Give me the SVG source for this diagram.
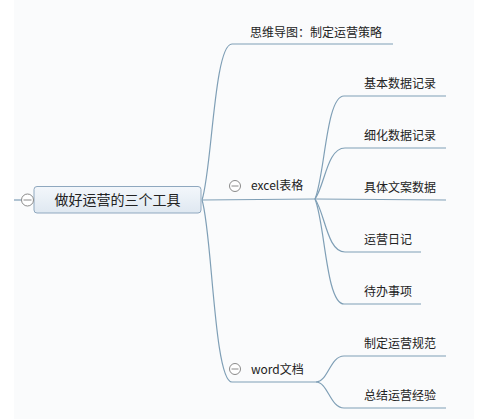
<svg xmlns="http://www.w3.org/2000/svg" width="492" height="419" viewBox="0 0 492 419">
<defs>
<linearGradient id="rootFill" x1="0" y1="0" x2="0" y2="1">
<stop offset="0" stop-color="#f3f7fb"/>
<stop offset="1" stop-color="#dfe8f1"/>
</linearGradient>
</defs>
<style>
.bg{fill:#fafbfc}
.ln{fill:none;stroke:#7f9fb6;stroke-width:1.2}
.t{font-family:"Noto Sans CJK SC","Noto Sans",sans-serif;font-size:12px;fill:#222}
.rt{font-family:"Noto Sans CJK SC","Noto Sans",sans-serif;font-size:14px;fill:#222}
.col{fill:#fff;stroke:#8a8a8a;stroke-width:1}
.minus{stroke:#8a8a8a;stroke-width:1}
</style>
<rect x="0" y="0" width="492" height="419" fill="#ffffff"/>
<rect class="bg" x="14" y="0" width="460" height="419"/>
<g id="connectors">
<line class="ln" x1="14" y1="200" x2="21.5" y2="200"/>
<path class="ln" d="M202,200 C212,170 214,44 232,44 L393,44"/>
<path class="ln" d="M202,200 C214,200 300,199 315,199"/>
<path class="ln" d="M202,200 C212,230 214,382 232,382 L316,382"/>
<path class="ln" d="M315,199 C325,175 326,96 344,96 L446,96"/>
<path class="ln" d="M315,199 C325,185 327,148 345,148 L446,148"/>
<path class="ln" d="M315,199 L446,200"/>
<path class="ln" d="M315,199 C325,213 327,252 345,252 L421,252"/>
<path class="ln" d="M315,199 C325,223 326,304 344,304 L421,304"/>
<path class="ln" d="M316,382 C328,382 330,356 344,356 L446,356"/>
<path class="ln" d="M316,382 C328,382 330,408 344,408 L446,408"/>
</g>
<g id="root">
<rect x="34" y="186.5" width="167" height="26.5" rx="3" fill="url(#rootFill)" stroke="#8fa8bf" stroke-width="1"/>
<text class="rt" x="117.5" y="205" text-anchor="middle">做好运营的三个工具</text>
<circle class="col" cx="27.5" cy="200" r="6"/>
<line class="minus" x1="23.5" y1="200" x2="31.5" y2="200"/>
</g>
<g id="mindmap">
<text class="t" x="250" y="36.5">思维导图：制定运营策略</text>
</g>
<g id="excel">
<circle class="col" cx="235" cy="186" r="5.5"/>
<line class="minus" x1="231.5" y1="186" x2="238.5" y2="186"/>
<text class="t" x="251" y="190">excel表格</text>
</g>
<g id="word">
<circle class="col" cx="235" cy="369" r="5.5"/>
<line class="minus" x1="231.5" y1="369" x2="238.5" y2="369"/>
<text class="t" x="251" y="373.5">word文档</text>
</g>
<g id="basic"><text class="t" x="364" y="88">基本数据记录</text></g>
<g id="detail"><text class="t" x="364" y="140">细化数据记录</text></g>
<g id="copy"><text class="t" x="364" y="191.5">具体文案数据</text></g>
<g id="diary"><text class="t" x="364" y="243.5">运营日记</text></g>
<g id="todo"><text class="t" x="364" y="296">待办事项</text></g>
<g id="norms"><text class="t" x="364" y="347.5">制定运营规范</text></g>
<g id="summary"><text class="t" x="364" y="400">总结运营经验</text></g>
</svg>
